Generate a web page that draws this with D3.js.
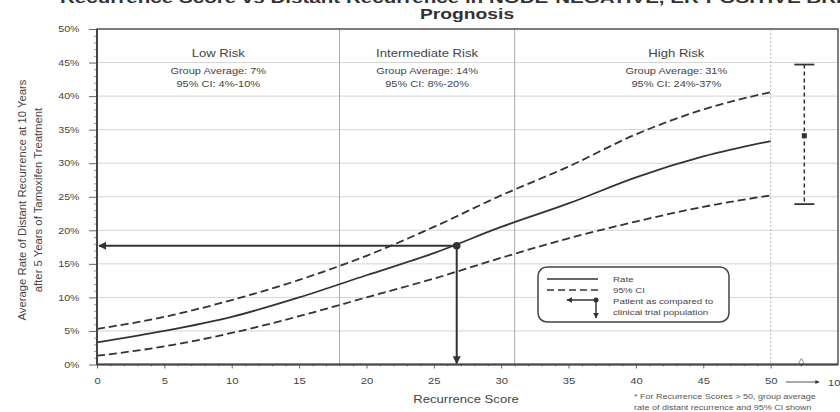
<!DOCTYPE html>
<html lang="en">
<head>
<meta charset="UTF-8">
<title>Recurrence Score vs Distant Recurrence</title>
<script src="https://cdn.jsdelivr.net/npm/d3@7"></script>
<style>
  body { margin: 0; background: #fff; }
  svg { font-family: "Liberation Sans", Arial, sans-serif; }
  text { fill: #444; }
</style>
</head>
<body>
<svg id="chart" width="840" height="412"></svg>
<script>
// data
var scores = [0, 5, 10, 15, 20, 25, 30, 35, 40, 45, 50];
var rate   = [0.033, 0.050, 0.071, 0.100, 0.133, 0.166, 0.205, 0.240, 0.279, 0.310, 0.333];
var upper  = [0.053, 0.071, 0.096, 0.126, 0.162, 0.205, 0.252, 0.295, 0.343, 0.380, 0.406];
var lower  = [0.013, 0.027, 0.047, 0.072, 0.100, 0.128, 0.159, 0.188, 0.213, 0.235, 0.252];
var yTicks = [0, 0.05, 0.10, 0.15, 0.20, 0.25, 0.30, 0.35, 0.40, 0.45, 0.50];
var xTicks = [0, 5, 10, 15, 20, 25, 30, 35, 40, 45, 50];
var cutoffs = [18, 31];
var groups = [
  {name: "Low Risk", from: 0, to: 18, avg: "Group Average: 7%", ci: "95% CI: 4%-10%"},
  {name: "Intermediate Risk", from: 18, to: 31, avg: "Group Average: 14%", ci: "95% CI: 8%-20%"},
  {name: "High Risk", from: 31, to: 55, avg: "Group Average: 31%", ci: "95% CI: 24%-37%"}
];
var patient = {score: 26.7, rate: 0.177};
var over50 = {score: 52.5, avg: 0.341, lo: 0.239, hi: 0.447};

var svg = d3.select("#chart");
var x = d3.scaleLinear().domain([0, 55]).range([97, 838]);
var y = d3.scaleLinear().domain([0, 0.5]).range([364.5, 29]);
var ink = "#333";
var sx = 1.25; // the scan is stretched sideways, so the text is too

function label(sel, px, py, str, size, anchor, stretch) {
  return sel.append("text")
    .attr("transform", "translate(" + px + "," + py + ") scale(" + (stretch || sx) + ",1)")
    .attr("text-anchor", anchor || "start").attr("font-size", size).text(str);
}

// arrowheads
svg.append("defs").append("marker").attr("id", "arr").attr("viewBox", "0 0 10 10")
  .attr("refX", 9).attr("refY", 5).attr("markerWidth", 4).attr("markerHeight", 4)
  .attr("orient", "auto-start-reverse")
  .append("path").attr("d", "M0,0L10,5L0,10z").attr("fill", ink);

// title
label(svg, 60, 2.5, "Recurrence Score vs Distant Recurrence in NODE-NEGATIVE, ER-POSITIVE BREAST CANCER", 14.5, "start", 1.42)
  .attr("font-weight", "bold").style("fill", "#333");
label(svg, 467, 19, "Prognosis", 14.5, "middle", 1.33).attr("font-weight", "bold").style("fill", "#333");

// gridlines
svg.append("g").selectAll("line").data(yTicks.slice(1)).enter().append("line")
  .attr("x1", x(0)).attr("x2", x(55)).attr("y1", y).attr("y2", y)
  .attr("stroke", "#d4d4d4").attr("stroke-width", 1);

// risk cutoffs and x=50 boundary
svg.append("g").selectAll("line").data(cutoffs).enter().append("line")
  .attr("x1", x).attr("x2", x).attr("y1", y(0.5)).attr("y2", y(0))
  .attr("stroke", "#aaa").attr("stroke-width", 1);
svg.append("line").attr("x1", x(50)).attr("x2", x(50)).attr("y1", y(0.5)).attr("y2", y(0))
  .attr("stroke", "#bbb").attr("stroke-dasharray", "2,2");

// group labels
var gl = svg.append("g");
groups.forEach(function(g) {
  var cx = (x(g.from) + x(g.to)) / 2;
  label(gl, cx, 57, g.name, 10.5, "middle");
  label(gl, cx, 74, g.avg, 8.8, "middle");
  label(gl, cx, 87, g.ci, 8.8, "middle");
});

// curves
var line = d3.line().x(function(d) { return x(d[0]); }).y(function(d) { return y(d[1]); })
  .curve(d3.curveMonotoneX);
function pts(vals) { return scores.map(function(s, i) { return [s, vals[i]]; }); }
svg.append("path").datum(pts(upper)).attr("d", line).attr("fill", "none")
  .attr("stroke", ink).attr("stroke-width", 1.8).attr("stroke-dasharray", "8,4");
svg.append("path").datum(pts(lower)).attr("d", line).attr("fill", "none")
  .attr("stroke", ink).attr("stroke-width", 1.8).attr("stroke-dasharray", "8,4");
svg.append("path").datum(pts(rate)).attr("d", line).attr("fill", "none")
  .attr("stroke", ink).attr("stroke-width", 1.8);

// patient arrows
svg.append("line").attr("x1", x(patient.score)).attr("x2", x(0) + 2)
  .attr("y1", y(patient.rate)).attr("y2", y(patient.rate))
  .attr("stroke", ink).attr("stroke-width", 2).attr("marker-end", "url(#arr)");
svg.append("line").attr("x1", x(patient.score)).attr("x2", x(patient.score))
  .attr("y1", y(patient.rate)).attr("y2", y(0) - 1)
  .attr("stroke", ink).attr("stroke-width", 2).attr("marker-end", "url(#arr)");
svg.append("circle").attr("cx", x(patient.score)).attr("cy", y(patient.rate)).attr("r", 3.8).attr("fill", ink);

// >50 group
var eb = svg.append("g").attr("stroke", ink).attr("stroke-width", 1.5);
eb.append("line").attr("x1", x(over50.score)).attr("x2", x(over50.score))
  .attr("y1", y(over50.hi)).attr("y2", y(over50.lo)).attr("stroke-dasharray", "4,3");
[over50.hi, over50.lo].forEach(function(v) {
  eb.append("line").attr("x1", x(over50.score) - 10).attr("x2", x(over50.score) + 10)
    .attr("y1", y(v)).attr("y2", y(v)).attr("stroke-width", 1.8);
});
svg.append("rect").attr("x", x(over50.score) - 2.5).attr("y", y(over50.avg) - 2.5)
  .attr("width", 5).attr("height", 5).attr("fill", ink);
svg.append("path").attr("d", d3.symbol().type(d3.symbolDiamond).size(18)())
  .attr("transform", "translate(" + (x(over50.score) - 3) + "," + (y(0) - 2) + ")")
  .attr("fill", "#fff").attr("stroke", "#888");

// axes
var xAxis = svg.append("g").attr("transform", "translate(0," + y(0) + ")")
  .call(d3.axisBottom(x).tickValues(xTicks).tickSize(4).tickPadding(9).tickFormat(d3.format("d")));
xAxis.select(".domain").remove();
xAxis.selectAll("text").attr("font-size", 9).attr("transform", "scale(" + sx + ",1)");
xAxis.selectAll("line").attr("stroke", "#666");
svg.append("g").attr("transform", "translate(0," + y(0) + ")")
  .call(d3.axisBottom(x).tickValues(d3.range(1, 51).filter(function(d) { return d % 5; })).tickSize(2).tickFormat(""))
  .call(function(g) { g.select(".domain").remove(); g.selectAll("line").attr("stroke", "#888"); });

var yAxis = svg.append("g").attr("transform", "translate(" + x(0) + ",0)")
  .call(d3.axisLeft(y).tickValues(yTicks).tickSize(8).tickPadding(6).tickFormat(d3.format(".0%")));
yAxis.select(".domain").remove();
yAxis.selectAll("text").attr("font-size", 8.5).attr("transform", "scale(" + sx + ",1)");
yAxis.selectAll("line").attr("stroke", "#666");
svg.append("g").attr("transform", "translate(" + x(0) + ",0)")
  .call(d3.axisLeft(y).tickValues(d3.range(1, 50).filter(function(d) { return d % 5; }).map(function(d) { return d / 100; })).tickSize(3).tickFormat(""))
  .call(function(g) { g.select(".domain").remove(); g.selectAll("line").attr("stroke", "#999"); });

// frame
svg.append("rect").attr("x", x(0)).attr("y", y(0.5)).attr("width", x(55) - x(0)).attr("height", y(0) - y(0.5))
  .attr("fill", "none").attr("stroke", "#555").attr("stroke-width", 1.5);
svg.append("line").attr("x1", x(0)).attr("x2", x(0)).attr("y1", y(0.5)).attr("y2", y(0))
  .attr("stroke", "#444").attr("stroke-width", 2);
svg.append("line").attr("x1", x(0)).attr("x2", x(55)).attr("y1", y(0)).attr("y2", y(0))
  .attr("stroke", "#444").attr("stroke-width", 2);

// axis titles
label(svg, 466, 403, "Recurrence Score", 10.5, "middle");
var yt = svg.append("text").attr("transform", "translate(26,200) rotate(-90)")
  .attr("text-anchor", "middle").attr("font-size", 11.3);
yt.append("tspan").attr("x", 0).attr("dy", 0).text("Average Rate of Distant Recurrence at 10 Years");
yt.append("tspan").attr("x", 0).attr("dy", 16).text("after 5 Years of Tamoxifen Treatment");

// 50 -> 100
svg.append("line").attr("x1", 786).attr("x2", 819).attr("y1", 382).attr("y2", 382)
  .attr("stroke", "#555").attr("stroke-width", 1).attr("marker-end", "url(#arr)");
label(svg, 828, 385.5, "100", 9);

// footnote
label(svg, 634, 398.5, "* For Recurrence Scores > 50, group average", 7.2).style("fill", "#555");
label(svg, 634, 409.5, "rate of distant recurrence and 95% CI shown", 7.2).style("fill", "#555");

// legend
var lg = svg.append("g");
lg.append("rect").attr("x", 538).attr("y", 267).attr("width", 191).attr("height", 55).attr("rx", 9)
  .attr("fill", "#fff").attr("stroke", "#444").attr("stroke-width", 1.5);
lg.append("line").attr("x1", 547).attr("x2", 598).attr("y1", 279).attr("y2", 279).attr("stroke", ink).attr("stroke-width", 1.5);
lg.append("line").attr("x1", 547).attr("x2", 598).attr("y1", 290).attr("y2", 290).attr("stroke", ink)
  .attr("stroke-width", 1.5).attr("stroke-dasharray", "7,4");
lg.append("line").attr("x1", 596).attr("x2", 567).attr("y1", 300).attr("y2", 300).attr("stroke", ink)
  .attr("stroke-width", 1.5).attr("marker-end", "url(#arr)");
lg.append("line").attr("x1", 596).attr("x2", 596).attr("y1", 300).attr("y2", 318).attr("stroke", ink)
  .attr("stroke-width", 1.5).attr("marker-end", "url(#arr)");
lg.append("circle").attr("cx", 596).attr("cy", 300).attr("r", 2.5).attr("fill", ink);
label(lg, 613, 282, "Rate", 7.8);
label(lg, 613, 292.5, "95% CI", 7.8);
label(lg, 613, 304, "Patient as compared to", 7.8);
label(lg, 613, 314.5, "clinical trial population", 7.8);
</script>
</body>
</html>
